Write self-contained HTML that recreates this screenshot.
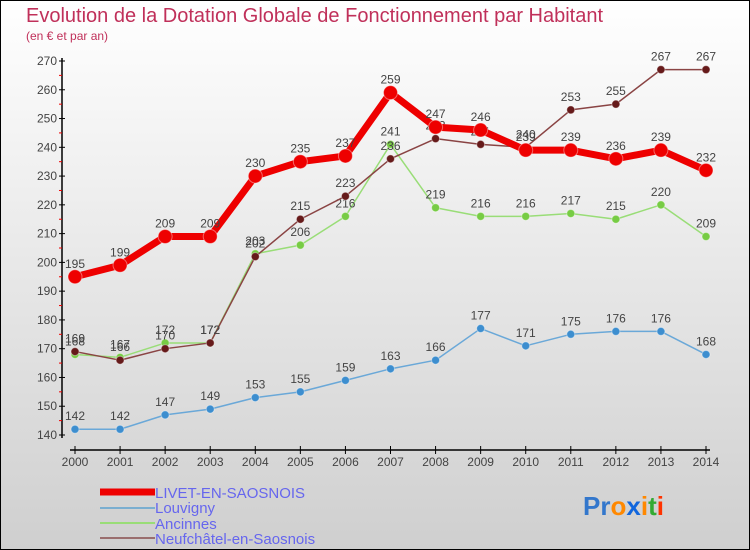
<!DOCTYPE html>
<html><head><meta charset="utf-8"><style>
body{margin:0;}
#c{width:750px;height:550px;position:relative;overflow:hidden;font-family:"Liberation Sans",sans-serif;}
</style></head><body>
<div id="c">
<svg width="750" height="550" xmlns="http://www.w3.org/2000/svg" id="svg">
<defs><linearGradient id="bg" x1="0" y1="0" x2="0" y2="1"><stop offset="0" stop-color="#ffffff"/><stop offset="1" stop-color="#cfcfcf"/></linearGradient></defs>
<rect x="0.5" y="0.5" width="749" height="549" fill="url(#bg)" stroke="#000"/>
<text x="26" y="22" font-size="20" fill="#c0305a">Evolution de la Dotation Globale de Fonctionnement par Habitant</text>
<text x="26" y="40" font-size="12" fill="#c0305a">(en € et par an)</text>
<g id="axes"></g><g id="series"></g>
<g>
<line x1="100" y1="492" x2="155" y2="492" stroke="#ee0000" stroke-width="7"/>
<text x="155" y="498" font-size="15" fill="#6666ee">LIVET-EN-SAOSNOIS</text>
<line x1="100" y1="508" x2="155" y2="508" stroke="#7aaed0" stroke-width="2"/>
<text x="155" y="513" font-size="15" fill="#6666ee">Louvigny</text>
<line x1="100" y1="523" x2="155" y2="523" stroke="#99dd77" stroke-width="2"/>
<text x="155" y="529" font-size="15" fill="#6666ee">Ancinnes</text>
<line x1="100" y1="538" x2="155" y2="538" stroke="#9a6e6e" stroke-width="2"/>
<text x="155" y="544" font-size="15" fill="#6666ee">Neufchâtel-en-Saosnois</text>
</g>
<g font-size="26" font-weight="bold">
<text x="583" y="515"><tspan fill="#3377cc">Pr</tspan><tspan fill="#ff8800">o</tspan><tspan fill="#1166dd">x</tspan><tspan fill="#ff8800">i</tspan><tspan fill="#33aa33">t</tspan><tspan fill="#ff3300">i</tspan></text>
</g>
</svg>
</div>
<script>
const years=[2000,2001,2002,2003,2004,2005,2006,2007,2008,2009,2010,2011,2012,2013,2014];
const yTicks=[140,150,160,170,180,190,200,210,220,230,240,250,260,270];
const livet=[195,199,209,209,230,235,237,259,247,246,239,239,236,239,232];
const louvigny=[142,142,147,149,153,155,159,163,166,177,171,175,176,176,168];
const ancinnes=[168,167,172,172,203,206,216,241,219,216,216,217,215,220,209];
const neufchatel=[169,166,170,172,202,215,223,236,243,241,240,253,255,267,267];
const NS="http://www.w3.org/2000/svg";
function xs(i){return 75+i*(706-75)/(years.length-1);}
function ys(v){return 435-(v-140)*(435-61)/130;}
function mk(tag,attrs,parent){const e=document.createElementNS(NS,tag);for(const k in attrs)e.setAttribute(k,attrs[k]);parent.appendChild(e);return e;}
const ax=document.getElementById('axes');
let l=mk('line',{x1:62,y1:58,x2:62,y2:438,stroke:'#000','stroke-width':1.5},ax);


l=mk('line',{x1:70,y1:450,x2:710,y2:450,stroke:'#000','stroke-width':1.5},ax);


yTicks.forEach((v,i)=>{
 mk('line',{x1:59,y1:ys(v),x2:65,y2:ys(v),stroke:'#000'},ax);
 if(i<yTicks.length-1) mk('line',{x1:59,y1:ys(v+5),x2:62,y2:ys(v+5),stroke:'#ee0000'},ax);
 const t=mk('text',{x:57,y:ys(v)+4,'font-size':12,fill:'#444','text-anchor':'end'},ax);
 t.textContent=v;
 
 
});
years.forEach((y,i)=>{
 mk('line',{x1:xs(i),y1:446,x2:xs(i),y2:454,stroke:'#000'},ax);
 const t=mk('text',{x:xs(i),y:466,'font-size':12,fill:'#444','text-anchor':'middle'},ax);
 t.textContent=y;
 
 
});
const sg=document.getElementById('series');
function series(data,name,color,w,r,dot){
 const g=mk('g',{},sg);
 
 
 const p=mk('polyline',{points:data.map((v,i)=>xs(i)+','+ys(v)).join(' '),fill:'none',stroke:color,'stroke-width':w,'stroke-linejoin':'round'},g);
 
 
 data.forEach((v,i)=>{
  const c=mk('circle',{cx:xs(i),cy:ys(v),r:r,fill:dot,stroke:'#fff','stroke-opacity':0.4},g);
  
  
  const t=mk('text',{x:xs(i),y:ys(v)-9,'font-size':12,fill:'#444','text-anchor':'middle'},g);
  t.textContent=v;
  
  
 });
}
series(louvigny,'louvigny','#6aa8d8',1.5,4,'#3d8ecf');
series(ancinnes,'ancinnes','#99dd77',1.5,4,'#77cc44');
series(neufchatel,'neufchatel','#8a4444',1.5,4,'#661a1a');
series(livet,'livet','#ee0000',7,7,'#ee0000');
</script>
</body></html>
